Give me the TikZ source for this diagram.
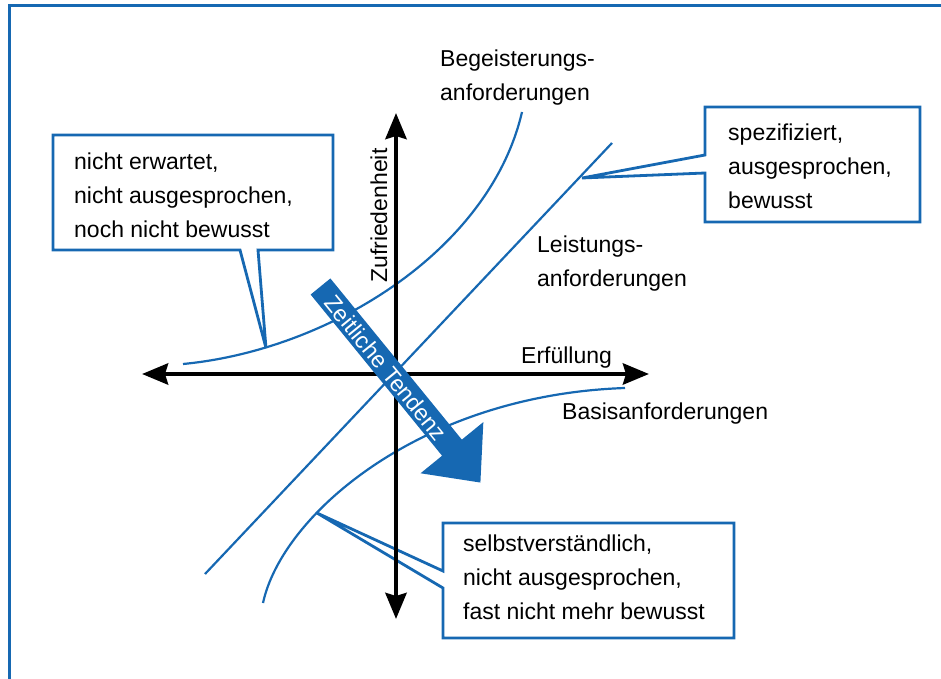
\documentclass[tikz,border=0pt]{standalone}
\usepackage{fontspec}
\setmainfont{Liberation Sans}
\usetikzlibrary{arrows.meta}
\definecolor{kanoblue}{RGB}{22,104,178}

\begin{document}
\begin{tikzpicture}[x=1pt,y=-1pt,
    axis/.style={line width=4.5pt,
      {Stealth[length=26pt,width=21pt,inset=3pt]}-{Stealth[length=26pt,width=21pt,inset=3pt]}},
    curve/.style={color=kanoblue,line width=2.2pt},
    callout/.style={draw=kanoblue,fill=white,line width=2.8pt},
    txt/.style={font=\fontsize{23}{34}\selectfont,inner sep=0pt,align=left,anchor=base west}]
    \useasboundingbox (0,0) rectangle (941,679);
    \draw[kanoblue,line width=3pt] (9.5,679) -- (9.5,6) -- (941,6);
    % Kano-Kurven
    \draw[curve] (183,364) .. controls (330,350) and (490,250) .. (522,112);
    \draw[curve] (205,574) -- (612,143);
    \draw[curve] (263,603) .. controls (282,515) and (420,395) .. (625,388);
    % Sprechblasen (base = letzte Zeile)
    \draw[callout] (53,135) -- (333,135) -- (333,250) -- (258,250) -- (266,348)
        -- (240,250) -- (53,250) -- cycle;
    \draw[callout] (705,107) -- (920,107) -- (920,222) -- (705,222) -- (705,173)
        -- (582,178) -- (705,155) -- cycle;
    \draw[callout] (443,523) -- (734,523) -- (734,638) -- (443,638) -- (443,588)
        -- (317,513) -- (443,571) -- cycle;
    \node[txt] (erwartet) at (74,237) {nicht erwartet,\\nicht ausgesprochen,\\noch nicht bewusst};
    \node[txt] (spezifiziert) at (728,208) {spezifiziert,\\ausgesprochen,\\bewusst};
    \node[txt] (selbst) at (463,619) {selbstverständlich,\\nicht ausgesprochen,\\fast nicht mehr bewusst};
    % Achsen
    \coordinate (xl) at (142,374);
    \coordinate (xr) at (649,374);
    \coordinate (yt) at (396,113);
    \coordinate (yb) at (396,619);
    \draw[axis] (xl) -- (xr);
    \draw[axis] (yb) -- (yt);
    \node[txt] (erfuellung) at (521,363) {Erfüllung};
    \node[txt,rotate=90] (zufrieden) at (387,283) {Zufriedenheit};
    % Tendenzpfeil
    \begin{scope}[shift={(320.5,286.5)},rotate=-50.8]
        \fill[kanoblue] (0,-12.75) -- (208,-12.75) -- (208,-40.5) -- (253,0)
            -- (208,40.5) -- (208,12.75) -- (0,12.75) -- cycle;
    \end{scope}
    \node[txt,anchor=center,text=white,rotate=-50.8] (tendenz) at (386,368) {Zeitliche Tendenz};
    % Beschriftungen
    \node[txt] (begeisterung) at (440,101) {Begeisterungs-\\anforderungen};
    \node[txt] (leistung) at (537,286) {Leistungs-\\anforderungen};
    \node[txt] (basis) at (562,419) {Basisanforderungen};
\end{tikzpicture}
\end{document}
